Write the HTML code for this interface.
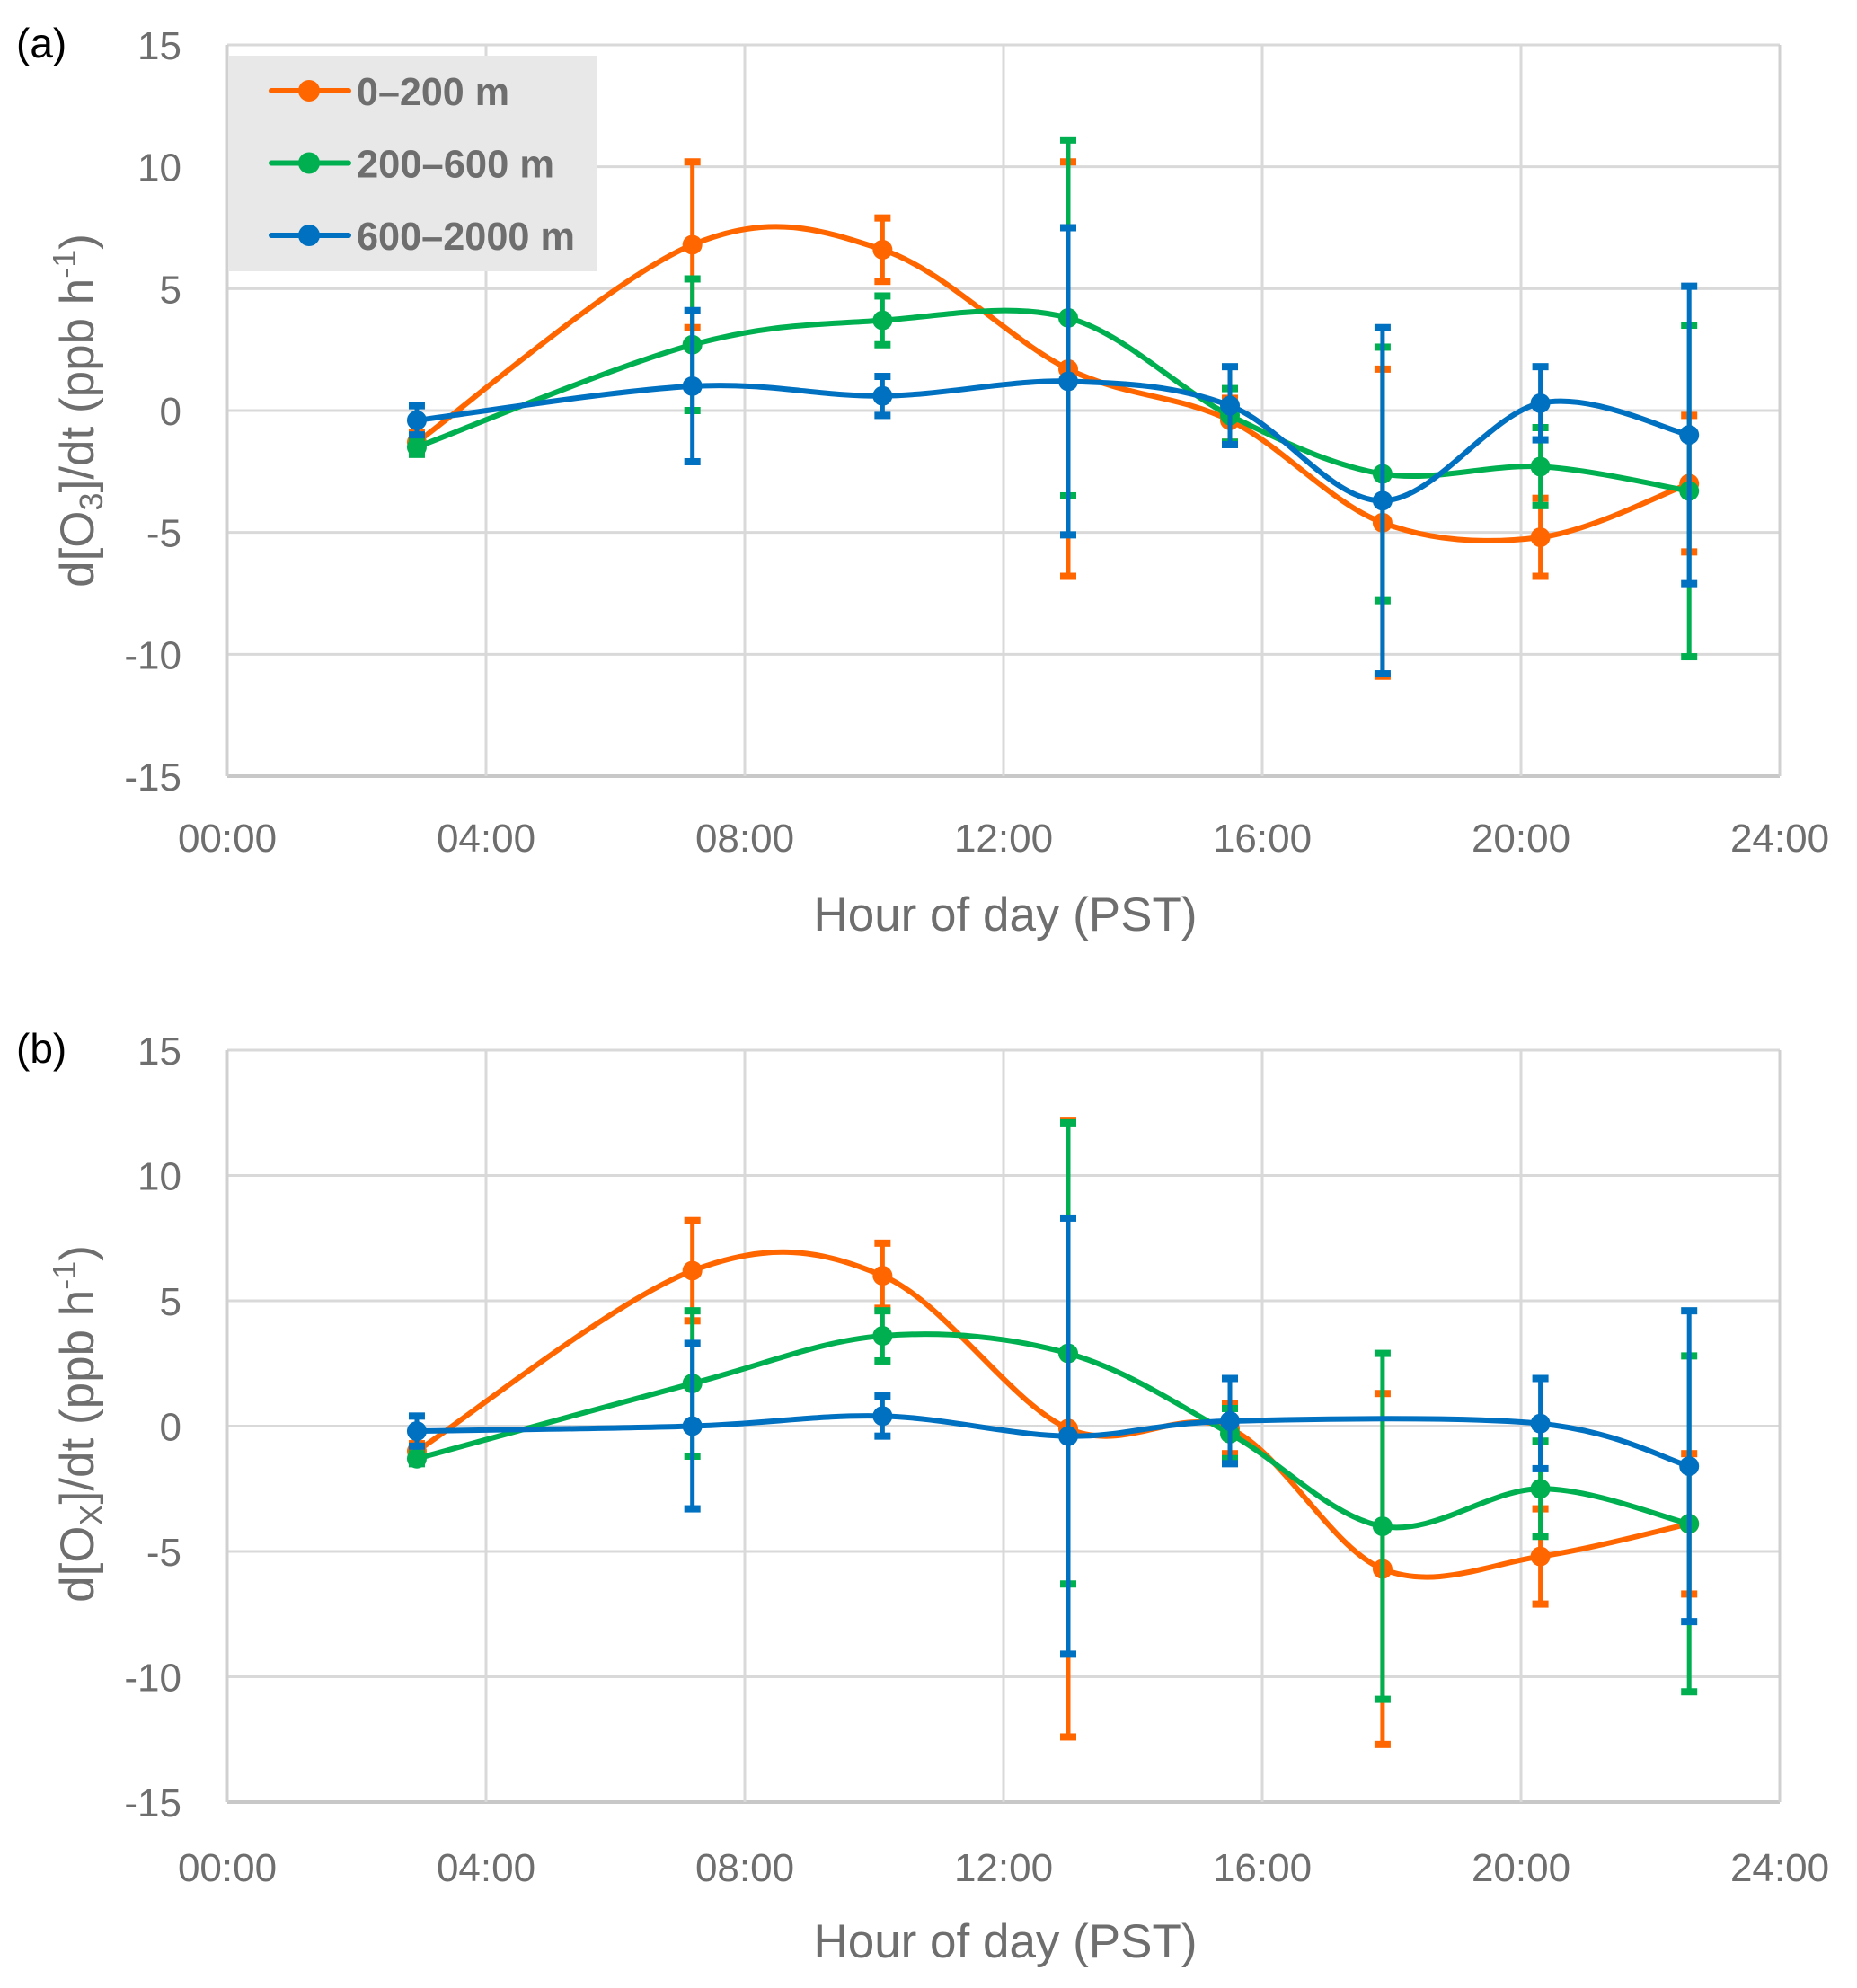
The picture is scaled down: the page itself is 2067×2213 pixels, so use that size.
<!DOCTYPE html>
<html><head><meta charset="utf-8"><style>
html,body{margin:0;padding:0;background:#fff;}
svg{display:block;font-family:"Liberation Sans",sans-serif;}
</style></head><body>
<svg id="chart" width="2067" height="2213" viewBox="0 0 2067 2213" xmlns="http://www.w3.org/2000/svg"></svg>
<script>
const hours = [2.93, 7.19, 10.13, 13.0, 15.5, 17.86, 20.3, 22.6];
const xTickLabels = ["00:00","04:00","08:00","12:00","16:00","20:00","24:00"];
const yTickLabels = ["15","10","5","0","-5","-10","-15"];
const seriesNames = ["0\u2013200 m","200\u2013600 m","600\u20132000 m"];
// Panel a
const aOrange = [-1.3, 6.8, 6.6, 1.7, -0.4, -4.6, -5.2, -3.0];
const aOrangeErr = [0.4, 3.4, 1.3, 8.5, 0.9, 6.3, 1.6, 2.8];
const aGreen = [-1.5, 2.7, 3.7, 3.8, -0.2, -2.6, -2.3, -3.3];
const aGreenErr = [0.3, 2.7, 1.0, 7.3, 1.1, 5.2, 1.6, 6.8];
const aBlue = [-0.4, 1.0, 0.6, 1.2, 0.2, -3.7, 0.3, -1.0];
const aBlueErr = [0.6, 3.1, 0.8, 6.3, 1.6, 7.1, 1.5, 6.1];
// Panel b
const bOrange = [-1.0, 6.2, 6.0, -0.1, -0.1, -5.7, -5.2, -3.9];
const bOrangeErr = [0.3, 2.0, 1.3, 12.3, 1.0, 7.0, 1.9, 2.8];
const bGreen = [-1.3, 1.7, 3.6, 2.9, -0.3, -4.0, -2.5, -3.9];
const bGreenErr = [0.2, 2.9, 1.0, 9.2, 1.0, 6.9, 1.9, 6.7];
const bBlue = [-0.2, 0.0, 0.4, -0.4, 0.2, null, 0.1, -1.6];
const bBlueErr = [0.6, 3.3, 0.8, 8.7, 1.7, null, 1.8, 6.2];

const colors = ["#FF6600","#00B050","#0070C0"];
const NS = "http://www.w3.org/2000/svg";
const svg = document.getElementById("chart");
function mk(tag, attrs, parent){const e=document.createElementNS(NS,tag);for(const k in attrs)e.setAttribute(k,attrs[k]);(parent||svg).appendChild(e);return e;}

const X0=253, X1=1981;
function xScale(h){return X0+(h/24)*(X1-X0);}

function panel(top, bottom, label, sub, data, ytitleCy, tickY, titleY, key){
  const g = mk("g",{});
  
  
  const yScale = v => top + (15 - v)/30*(bottom-top);
  for(let i=0;i<7;i++){
    const y = top + i*(bottom-top)/6;
    const l = mk("line",{x1:X0,x2:X1,y1:y,y2:y,stroke: i===6?"#c8c8c8":"#d9d9d9","stroke-width": i===6?4:3},g);
    
    
    const t = mk("text",{x:202,y:y+16,"text-anchor":"end","font-size":44,fill:"#6e6e6e"},g);
    t.textContent = yTickLabels[i];
    
    
  }
  for(let i=0;i<7;i++){
    const x = xScale(i*4);
    const l = mk("line",{x1:x,x2:x,y1:top,y2:bottom,stroke:(i===0||i===6)?"#d0d0d0":"#d9d9d9","stroke-width":3},g);
    
    
    const t = mk("text",{x:x,y:tickY+16,"text-anchor":"middle","font-size":44,fill:"#6e6e6e"},g);
    t.textContent = xTickLabels[i];
    
    
  }
  const xt = mk("text",{x:(X0+X1)/2+2,y:titleY+19,"text-anchor":"middle","font-size":53,fill:"#6e6e6e"},g);
  xt.textContent = "Hour of day (PST)";
  
  
  const yt = mk("text",{x:0,y:0,"text-anchor":"middle","font-size":53,fill:"#6e6e6e",transform:`translate(${104},${ytitleCy}) rotate(-90)`},g);
  yt.innerHTML = `d[O<tspan font-size="36" dy="10">${sub}</tspan><tspan dy="-10">]/dt (ppb h</tspan><tspan font-size="36" dy="-20">-1</tspan><tspan dy="20">)</tspan>`;
  
  
  const pl = mk("text",{x:18,y:top+14,"font-size":46,fill:"#000"},g);
  pl.textContent = label;
  
  

  data.forEach((s,si)=>{
    const col = colors[si];
    const sg = mk("g",{},g);
    
    
    const pts = [];
    s.v.forEach((v,i)=>{ if(v!==null) pts.push([xScale(hours[i]), yScale(v), i]); });
    pts.forEach(p=>{
      const e = s.e[p[2]], v = s.v[p[2]];
      const yu = yScale(v+e), yl = yScale(v-e);
      const eb = mk("line",{x1:p[0],x2:p[0],y1:yu,y2:yl,stroke:col,"stroke-width":5},sg);
      
      
      [yu,yl].forEach(yy=>{
        const c = mk("rect",{x:p[0]-9,y:yy-4,width:18,height:8,fill:col},sg);
        
        
      });
    });
    let d = `M${pts[0][0]},${pts[0][1]}`;
    for(let i=0;i<pts.length-1;i++){
      const p0=pts[Math.max(0,i-1)], p1=pts[i], p2=pts[i+1], p3=pts[Math.min(pts.length-1,i+2)];
      const c1x=p1[0]+(p2[0]-p0[0])/6, c1y=p1[1]+(p2[1]-p0[1])/6;
      const c2x=p2[0]-(p3[0]-p1[0])/6, c2y=p2[1]-(p3[1]-p1[1])/6;
      d += ` C${c1x},${c1y} ${c2x},${c2y} ${p2[0]},${p2[1]}`;
    }
    const path = mk("path",{d:d,fill:"none",stroke:col,"stroke-width":6},sg);
    
    
    pts.forEach(p=>{
      const m = mk("circle",{cx:p[0],cy:p[1],r:11,fill:col},sg);
      
      
    });
  });
}

panel(50, 864, "(a)", "3", [{v:aOrange,e:aOrangeErr},{v:aGreen,e:aGreenErr},{v:aBlue,e:aBlueErr}], 457, 932, 1017, "a");
panel(1169, 2006, "(b)", "X", [{v:bOrange,e:bOrangeErr},{v:bGreen,e:bGreenErr},{v:bBlue,e:bBlueErr}], 1585, 2078, 2160, "b");

const lg = mk("g",{});


const lb = mk("rect",{x:254,y:62,width:411,height:240,fill:"#e8e8e8"},lg);


const legendLens = [170, 220, 243];
seriesNames.forEach((n,i)=>{
  const y = 101 + i*80.5;
  const eg = mk("g",{},lg);
  
  
  mk("line",{x1:302,x2:388,y1:y,y2:y,stroke:colors[i],"stroke-width":6,"stroke-linecap":"round"},eg);
  mk("circle",{cx:344,cy:y,r:12,fill:colors[i]},eg);
  const t = mk("text",{x:397,y:y+16,"font-size":44,"font-weight":"bold",fill:"#6e6e6e",textLength:legendLens[i],lengthAdjust:"spacingAndGlyphs"},eg);
  t.textContent = n;
});
</script>
</body></html>
